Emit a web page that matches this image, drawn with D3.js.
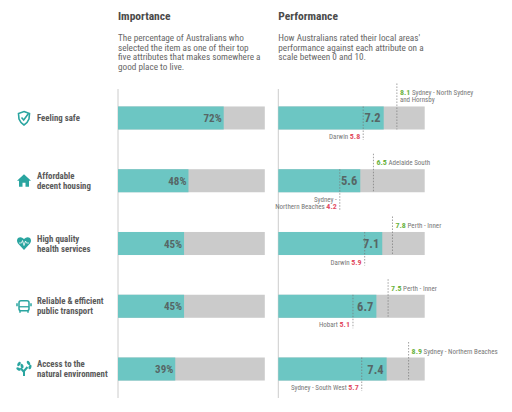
<!DOCTYPE html>
<html>
<head>
<meta charset="utf-8">
<script src="https://cdn.jsdelivr.net/npm/d3@7"></script>
<style>
  body { margin: 0; background: #fff; }
  svg text { font-family: "Roboto Condensed", "Liberation Sans Narrow", "Roboto", sans-serif; }
</style>
</head>
<body>
<div id="chart"></div>
<script>
// Data
var categories = [
  ["Feeling safe"],
  ["Affordable", "decent housing"],
  ["High quality", "health services"],
  ["Reliable & efficient", "public transport"],
  ["Access to the", "natural environment"]
];
var icons = ["shield", "house", "heart", "bus", "tree"];
var importance = [72, 48, 45, 45, 39];
var performance = [7.2, 5.6, 7.1, 6.7, 7.4];
var perfMax = [8.1, 6.5, 7.8, 7.5, 8.9];
var perfMaxPlace = [["Sydney - North Sydney", "and Hornsby"], ["Adelaide South"], ["Perth - Inner"], ["Perth - Inner"], ["Sydney - Northern Beaches"]];
var perfMin = [5.8, 4.2, 5.9, 5.1, 5.7];
var perfMinPlace = [["Darwin"], ["Sydney -", "Northern Beaches"], ["Darwin"], ["Hobart"], ["Sydney - South West"]];
var importanceDesc = ["The percentage of Australians who", "selected the item as one of their top", "five attributes that makes somewhere a", "good place to live."];
var performanceDesc = ["How Australians rated their local areas'", "performance against each attribute on a", "scale between 0 and 10."];

// Options
var width = 512;
var height = 412;
var teal = "#6cc6c3";
var iconColor = "#2aa5a0";
var grey = "#cbcbcb";
var textColor = "#5a5a5a";
var green = "#6ab23e";
var red = "#e24d63";

var svg = d3.select("#chart").append("svg")
  .attr("width", width)
  .attr("height", height);

var idx = d3.range(categories.length);

// Scales
var yScale = d3.scaleBand()
  .domain(idx)
  .range([86.6, 400.4])
  .paddingInner(0.633)
  .paddingOuter(0.3165);

var impScale = d3.scaleLinear().domain([0, 100]).range([118, 264.8]);
var perfScale = d3.scaleLinear().domain([0, 10]).range([278.3, 424.7]);

// Headers
function header(x, title, lines) {
  svg.append("text")
    .attr("x", x).attr("y", 20)
    .attr("font-size", 11.5).attr("font-weight", "bold")
    .attr("fill", "#4a4a4a")
    .text(title);
  svg.append("g").selectAll("text")
    .data(lines)
    .join("text")
    .attr("x", x)
    .attr("y", function(d, i) { return 41 + i * 9.5; })
    .attr("font-size", 9.2)
    .attr("fill", "#666")
    .text(function(d) { return d; });
}
header(impScale(0), "Importance", importanceDesc);
header(perfScale(0), "Performance", performanceDesc);

// Axis lines
[impScale(0), perfScale(0)].forEach(function(x) {
  svg.append("line")
    .attr("x1", x).attr("x2", x)
    .attr("y1", 89).attr("y2", 398)
    .attr("stroke", "#ccc").attr("stroke-width", 1);
});

var bw = yScale.bandwidth();

// Row labels
var rows = svg.append("g").selectAll("g")
  .data(idx)
  .join("g")
  .attr("transform", function(i) { return "translate(0," + (yScale(i) + bw / 2) + ")"; });

rows.each(function(i) {
  var g = d3.select(this);
  var lines = categories[i];
  g.selectAll("text.lbl")
    .data(lines)
    .join("text")
    .attr("class", "lbl")
    .attr("x", 37)
    .attr("y", function(d, k) { return 3 + (k - (lines.length - 1) / 2) * 10; })
    .attr("font-size", 8.8).attr("font-weight", "bold")
    .attr("fill", textColor)
    .text(function(d) { return d; });
  drawIcon(g.append("g").attr("transform", "translate(24,0)"), icons[i]);
});

function drawIcon(g, type) {
  if (type === "shield") {
    g.append("path")
      .attr("d", "M0,-6.5 L5.5,-4.5 L5,1 Q3.5,5 0,7 Q-3.5,5 -5,1 L-5.5,-4.5 Z")
      .attr("fill", "none").attr("stroke", iconColor).attr("stroke-width", 1.6);
    g.append("path")
      .attr("d", "M-2.5,-0.5 L-0.3,2 L4.5,-4.5")
      .attr("fill", "none").attr("stroke", iconColor).attr("stroke-width", 1.6);
  } else if (type === "house") {
    g.append("path")
      .attr("d", "M-7,0 L0,-6.5 L7,0 L5,0 L5,6 L1.5,6 L1.5,2 L-1.5,2 L-1.5,6 L-5,6 L-5,0 Z")
      .attr("fill", iconColor);
  } else if (type === "heart") {
    g.append("path")
      .attr("d", "M0,6.5 L-6,0 Q-8,-3 -6,-5.5 Q-3,-7.5 0,-4.5 Q3,-7.5 6,-5.5 Q8,-3 6,0 Z")
      .attr("fill", iconColor);
    g.append("path")
      .attr("d", "M-5,-0.5 L-2.5,-0.5 L-1.5,-3 L0,2 L1.5,-2.5 L2.5,-0.5 L5,-0.5")
      .attr("fill", "none").attr("stroke", "#fff").attr("stroke-width", 0.8);
  } else if (type === "bus") {
    g.append("rect")
      .attr("x", -5).attr("y", -5.5).attr("width", 10).attr("height", 10).attr("rx", 2)
      .attr("fill", "none").attr("stroke", iconColor).attr("stroke-width", 1.5);
    g.append("line")
      .attr("x1", -5).attr("x2", 5).attr("y1", 0.5).attr("y2", 0.5)
      .attr("stroke", iconColor).attr("stroke-width", 1.3);
    g.append("path")
      .attr("d", "M-7,-3 L-7,0 M7,-3 L7,0 M-4,4.5 L-4,6.5 M4,4.5 L4,6.5")
      .attr("stroke", iconColor).attr("stroke-width", 1.5);
  } else if (type === "tree") {
    g.append("path")
      .attr("d", "M0,7 L0,1 M0,3 L-3.5,-1 M0,2 L3.5,-2")
      .attr("fill", "none").attr("stroke", iconColor).attr("stroke-width", 2);
    g.selectAll("ellipse")
      .data([[-5, -5, 35], [-2, -3, -20], [4.5, -6, -35], [6, -2, 20], [-5.5, 0, -60]])
      .join("ellipse")
      .attr("rx", 1.4).attr("ry", 2.4)
      .attr("transform", function(d) { return "translate(" + d[0] + "," + d[1] + ") rotate(" + d[2] + ")"; })
      .attr("fill", iconColor);
  }
}

// Importance bars
var imp = svg.append("g").attr("class", "importance");
imp.selectAll("rect.bg")
  .data(idx).join("rect").attr("class", "bg")
  .attr("x", impScale(0)).attr("y", function(i) { return yScale(i); })
  .attr("width", impScale(100) - impScale(0)).attr("height", bw)
  .attr("fill", grey);
imp.selectAll("rect.val")
  .data(idx).join("rect").attr("class", "val")
  .attr("x", impScale(0)).attr("y", function(i) { return yScale(i); })
  .attr("width", function(i) { return impScale(importance[i]) - impScale(0); }).attr("height", bw)
  .attr("fill", teal);
imp.selectAll("text.val")
  .data(idx).join("text").attr("class", "val")
  .attr("x", function(i) { return impScale(importance[i]) - 2; })
  .attr("y", function(i) { return yScale(i) + bw / 2 + 4; })
  .attr("text-anchor", "end")
  .attr("font-size", 11).attr("font-weight", "bold")
  .attr("fill", "#566666")
  .text(function(i) { return importance[i] + "%"; });

// Performance bars
var perf = svg.append("g").attr("class", "performance");
perf.selectAll("rect.bg")
  .data(idx).join("rect").attr("class", "bg")
  .attr("x", perfScale(0)).attr("y", function(i) { return yScale(i); })
  .attr("width", perfScale(10) - perfScale(0)).attr("height", bw)
  .attr("fill", grey);
perf.selectAll("rect.val")
  .data(idx).join("rect").attr("class", "val")
  .attr("x", perfScale(0)).attr("y", function(i) { return yScale(i); })
  .attr("width", function(i) { return perfScale(performance[i]) - perfScale(0); }).attr("height", bw)
  .attr("fill", teal);
perf.selectAll("text.val")
  .data(idx).join("text").attr("class", "val")
  .attr("x", function(i) { return perfScale(performance[i]) - 3; })
  .attr("y", function(i) { return yScale(i) + bw / 2 + 4.5; })
  .attr("text-anchor", "end")
  .attr("font-size", 12.5).attr("font-weight", "bold")
  .attr("fill", "#566666")
  .text(function(i) { return performance[i].toFixed(1); });

// Max markers
idx.forEach(function(i) {
  var x = perfScale(perfMax[i]);
  var top = yScale(i);
  var lines = perfMaxPlace[i];
  var lineTop = top - 8 - lines.length * 7.5;
  perf.append("line")
    .attr("x1", x).attr("x2", x)
    .attr("y1", lineTop).attr("y2", top + bw)
    .attr("stroke", "#777").attr("stroke-width", 0.7)
    .attr("stroke-dasharray", "1.5,1.5");
  lines.forEach(function(l, k) {
    var t = perf.append("text")
      .attr("x", x + 3)
      .attr("y", top - 4 - (lines.length - 1 - k) * 7.5)
      .attr("font-size", 7).attr("fill", "#777");
    if (k === 0) {
      t.append("tspan").attr("fill", green).attr("font-weight", "bold").attr("font-size", 8).text(perfMax[i].toFixed(1));
      t.append("tspan").text(" " + l);
    } else {
      t.text(l);
    }
  });
});

// Min markers
idx.forEach(function(i) {
  var x = perfScale(perfMin[i]);
  var bottom = yScale(i) + bw;
  var lines = perfMinPlace[i];
  perf.append("line")
    .attr("x1", x).attr("x2", x)
    .attr("y1", yScale(i)).attr("y2", bottom + 3 + lines.length * 7.5)
    .attr("stroke", "#777").attr("stroke-width", 0.7)
    .attr("stroke-dasharray", "1.5,1.5");
  lines.forEach(function(l, k) {
    var t = perf.append("text")
      .attr("x", x - 3)
      .attr("y", bottom + 9.5 + k * 7.5)
      .attr("text-anchor", "end")
      .attr("font-size", 7).attr("fill", "#777");
    if (k === lines.length - 1) {
      t.append("tspan").text(l + " ");
      t.append("tspan").attr("fill", red).attr("font-weight", "bold").attr("font-size", 8).text(perfMin[i].toFixed(1));
    } else {
      t.text(l);
    }
  });
});
</script>
</body>
</html>
